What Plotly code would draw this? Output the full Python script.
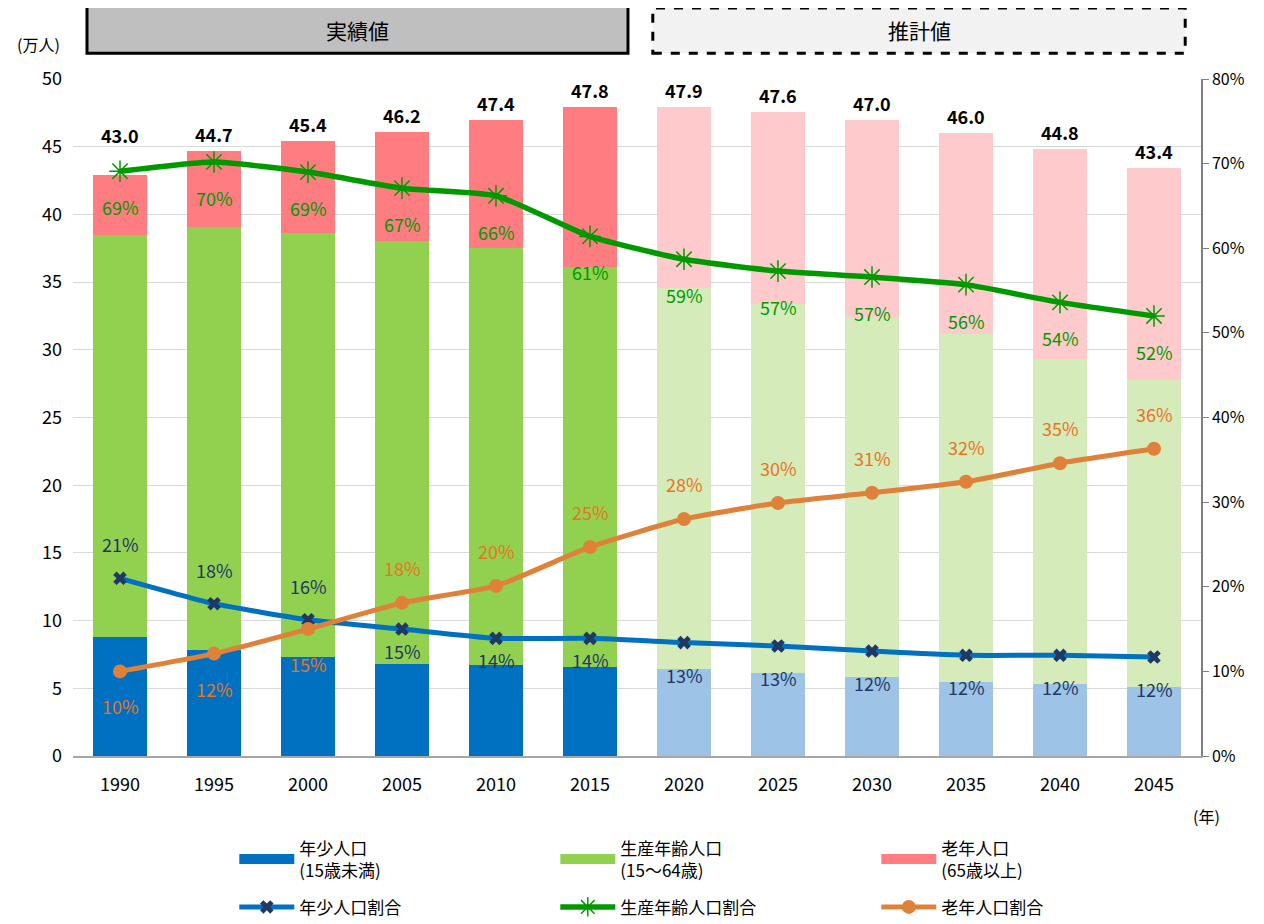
import plotly.graph_objects as go

years = ["1990", "1995", "2000", "2005", "2010", "2015",
         "2020", "2025", "2030", "2035", "2040", "2045"]
young = [8.8, 7.8, 7.3, 6.8, 6.7, 6.6, 6.4, 6.1, 5.8, 5.5, 5.3, 5.1]
working = [29.7, 31.3, 31.3, 31.2, 30.8, 29.5, 28.2, 27.3, 26.6, 25.7, 24.0, 22.7]
elderly = [4.4, 5.6, 6.8, 8.1, 9.5, 11.8, 13.3, 14.2, 14.6, 14.8, 15.5, 15.6]
totals = [43.0, 44.7, 45.4, 46.2, 47.4, 47.8, 47.9, 47.6, 47.0, 46.0, 44.8, 43.4]
young_pct = [21.0, 18.0, 16.1, 15.0, 13.9, 13.9, 13.4, 13.0, 12.4, 11.9, 11.9, 11.7]
working_pct = [69.1, 70.2, 69.0, 67.1, 66.2, 61.4, 58.7, 57.3, 56.6, 55.7, 53.6, 52.0]
elderly_pct = [10.0, 12.1, 15.0, 18.1, 20.1, 24.7, 28.0, 29.9, 31.1, 32.4, 34.6, 36.3]
n_actual = 6  # 1990-2015 are actual values, the rest are projections

FONT = "Noto Sans CJK JP"

def colors(past, future):
    return [past if i < n_actual else future for i in range(len(years))]

bar_series = [
    (young, "年少人口<br>(15歳未満)", "#0070C0", "#9DC3E6"),
    (working, "生産年齢人口<br>(15～64歳)", "#92D050", "#D5EBBA"),
    (elderly, "老年人口<br>(65歳以上)", "#FF7C80", "#FFCACC"),
]

fig = go.Figure()
for vals, name, c_past, c_future in bar_series:
    fig.add_trace(go.Bar(x=years, y=vals, name=name, showlegend=False,
                         marker=dict(color=colors(c_past, c_future), line=dict(width=0))))
# legend entries for the bars drawn as wide swatches
for vals, name, c_past, c_future in bar_series:
    fig.add_trace(go.Scatter(x=[None], y=[None], mode="lines", name=name, legend="legend",
                             line=dict(color=c_past, width=11)))

fig.add_trace(go.Scatter(x=years, y=young_pct, yaxis="y2", name="年少人口割合",
                         mode="lines+markers", legend="legend2",
                         line=dict(color="#0070C0", width=5, shape="spline", smoothing=0.5),
                         marker=dict(symbol="x", size=12, color="#1F3864")))
fig.add_trace(go.Scatter(x=years, y=working_pct, yaxis="y2", name="生産年齢人口割合",
                         mode="lines+markers", legend="legend2",
                         line=dict(color="#009A00", width=5.5, shape="spline", smoothing=0.5),
                         marker=dict(symbol="asterisk-open", size=18,
                                     line=dict(color="#009A00", width=1.5))))
fig.add_trace(go.Scatter(x=years, y=elderly_pct, yaxis="y2", name="老年人口割合",
                         mode="lines+markers", legend="legend2",
                         line=dict(color="#DF8139", width=5, shape="spline", smoothing=0.5),
                         marker=dict(symbol="circle", size=14, color="#DF8139")))

ann = []
# totals above the bars (x given as category index)
for i in range(len(years)):
    top = young[i] + working[i] + elderly[i]
    ann.append(dict(x=i, y=top, xref="x", yref="y", text=f"{totals[i]:.1f}",
                    showarrow=False, yshift=40 if i == 0 else 17,
                    font=dict(family=FONT, size=18, color="#000000", weight="bold")))
# percentage labels
for i in range(len(years)):
    ann.append(dict(x=i, y=young_pct[i], xref="x", yref="y2",
                    text=f"{young_pct[i]:.0f}%", showarrow=False,
                    yshift=34 if i < 3 else (-22 if i < n_actual else -32),
                    font=dict(family=FONT, size=18, color="#1F3864")))
    ann.append(dict(x=i, y=working_pct[i], xref="x", yref="y2",
                    text=f"{working_pct[i]:.0f}%", showarrow=False, yshift=-36,
                    font=dict(family=FONT, size=18, color="#009A00")))
    ann.append(dict(x=i, y=elderly_pct[i], xref="x", yref="y2",
                    text=f"{elderly_pct[i]:.0f}%", showarrow=False,
                    yshift=-35 if i < 3 else 35,
                    font=dict(family=FONT, size=18, color="#E8741E")))
# header labels & unit labels
ann.append(dict(x=0.252, y=1.073, xref="paper", yref="paper", text="実績値",
                xanchor="center", yanchor="middle",
                showarrow=False, font=dict(family=FONT, size=21, color="#000000")))
ann.append(dict(x=0.75, y=1.072, xref="paper", yref="paper", text="推計値",
                xanchor="center", yanchor="middle",
                showarrow=False, font=dict(family=FONT, size=21, color="#000000")))
ann.append(dict(x=-0.031, y=1.052, xref="paper", yref="paper", text="(万人)",
                xanchor="center", yanchor="middle",
                showarrow=False, font=dict(family=FONT, size=16, color="#000000")))
ann.append(dict(x=1.005, y=-0.088, xref="paper", yref="paper", text="(年)",
                xanchor="center", yanchor="middle",
                showarrow=False, font=dict(family=FONT, size=16, color="#000000")))

shapes = [
    dict(type="rect", xref="paper", yref="paper", x0=0.0124, x1=0.492, y0=1.038, y1=1.107,
         fillcolor="#BFBFBF", line=dict(color="#000000", width=3), layer="below"),
    dict(type="rect", xref="paper", yref="paper", x0=0.514, x1=0.986, y0=1.038, y1=1.105,
         fillcolor="#F2F2F2", line=dict(color="#000000", width=3, dash="dash"), layer="below"),
]

legend_common = dict(orientation="h", xanchor="left", yanchor="top",
                     entrywidth=251, entrywidthmode="pixels", traceorder="normal",
                     font=dict(family=FONT, size=17, color="#000000"), itemwidth=55)

fig.update_layout(
    width=1264, height=924,
    margin=dict(l=65, r=71, t=71, b=176, autoexpand=False),
    paper_bgcolor="white", plot_bgcolor="white",
    barmode="stack", bargap=0.43,
    font=dict(family=FONT, size=17, color="#000000"),
    showlegend=True,
    legend=dict(x=0.143, y=-0.11, **legend_common),
    legend2=dict(x=0.143, y=-0.197, **legend_common),
    xaxis=dict(type="category", range=[-0.5, len(years) - 0.5], showgrid=False,
               showline=True, linecolor="#A6A6A6", ticklabelstandoff=12,
               linewidth=1.5, ticks="", tickfont=dict(size=18, color="#000000")),
    yaxis=dict(range=[0, 50], dtick=5, showgrid=True, gridcolor="#D9D9D9", gridwidth=1.2,
               zeroline=False, showline=False, ticks="", ticklabelstandoff=10,
               tickfont=dict(size=18, color="#000000")),
    yaxis2=dict(range=[0, 80], dtick=10, overlaying="y", side="right", showgrid=False,
                zeroline=False, showline=True, linecolor="#808080", linewidth=1.5,
                ticks="outside", ticklen=6, tickcolor="#808080", ticksuffix="%",
                tickfont=dict(size=16, color="#000000")),
    annotations=ann,
    shapes=shapes,
)

fig.write_html("out.html")
